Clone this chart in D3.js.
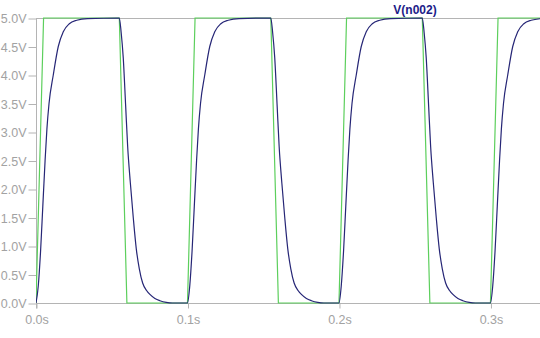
<!DOCTYPE html>
<html>
<head>
<meta charset="utf-8">
<script src="https://cdn.jsdelivr.net/npm/d3@7"></script>
<style>
  html, body { margin: 0; padding: 0; background: #fff; }
  svg { display: block; font-family: "Liberation Sans", Arial, sans-serif; }
</style>
</head>
<body>
<svg id="chart" width="540" height="338"></svg>
<script>
// input pulse (green), seconds / volts
const pulseTime = [0, 0.005, 0.055, 0.06, 0.1, 0.105, 0.155, 0.16, 0.2, 0.205, 0.255, 0.26, 0.3, 0.305, 0.34];
const pulseVolt = [0, 5, 5, 0, 0, 5, 5, 0, 0, 5, 5, 0, 0, 5, 5];

// V(n002) (blue)
const nodeTime = [
  0, 0.0015, 0.003, 0.0045, 0.006, 0.0072, 0.0086, 0.0114, 0.0147, 0.018, 0.022, 0.0269, 0.034,
  0.055, 0.0562, 0.0576, 0.0592, 0.0605, 0.0623, 0.0642, 0.0662, 0.0682, 0.0704, 0.073, 0.0752, 0.0785, 0.0818, 0.086, 0.09,
  0.1, 0.1015, 0.103, 0.1045, 0.106, 0.1072, 0.1086, 0.1114, 0.1147, 0.118, 0.122, 0.1269, 0.134,
  0.155, 0.1562, 0.1576, 0.1592, 0.1605, 0.1623, 0.1642, 0.1662, 0.1682, 0.1704, 0.173, 0.1752, 0.1785, 0.1818, 0.186, 0.19,
  0.2, 0.2015, 0.203, 0.2045, 0.206, 0.2072, 0.2086, 0.2114, 0.2147, 0.218, 0.222, 0.2269, 0.234,
  0.255, 0.2562, 0.2576, 0.2592, 0.2605, 0.2623, 0.2642, 0.2662, 0.2682, 0.2704, 0.273, 0.2752, 0.2785, 0.2818, 0.286, 0.29,
  0.3, 0.3015, 0.303, 0.3045, 0.306, 0.3072, 0.3086, 0.3114, 0.3147, 0.318, 0.322, 0.3269, 0.334
];
const nodeVolt = [
  0, 0.3, 0.9, 1.7, 2.5, 3.05, 3.5, 4.0, 4.5, 4.76, 4.9, 4.96, 4.99,
  5, 4.75, 4.3, 3.45, 2.75, 2.1, 1.5, 0.95, 0.6, 0.35, 0.22, 0.15, 0.08, 0.04, 0.01, 0,
  0, 0.3, 0.9, 1.7, 2.5, 3.05, 3.5, 4.0, 4.5, 4.76, 4.9, 4.96, 4.99,
  5, 4.75, 4.3, 3.45, 2.75, 2.1, 1.5, 0.95, 0.6, 0.35, 0.22, 0.15, 0.08, 0.04, 0.01, 0,
  0, 0.3, 0.9, 1.7, 2.5, 3.05, 3.5, 4.0, 4.5, 4.76, 4.9, 4.96, 4.99,
  5, 4.75, 4.3, 3.45, 2.75, 2.1, 1.5, 0.95, 0.6, 0.35, 0.22, 0.15, 0.08, 0.04, 0.01, 0,
  0, 0.3, 0.9, 1.7, 2.5, 3.05, 3.5, 4.0, 4.5, 4.76, 4.9, 4.96, 4.99
];

const yTicks = [0, 0.5, 1, 1.5, 2, 2.5, 3, 3.5, 4, 4.5, 5];
const xTicks = [0, 0.1, 0.2, 0.3];
const traceName = 'V(n002)';

const svg = d3.select('#chart');
const width = parseFloat(svg.attr('width'));
const plotLeft = 36, plotTop = 18, plotBottom = 303;

const x = d3.scaleLinear().domain([0, 0.3327]).range([plotLeft, width]);
const y = d3.scaleLinear().domain([0, 5]).range([plotBottom, plotTop]);

const gray = '#b4b4b4';
const labelGray = '#a2a2a2';

svg.append('defs').append('clipPath').attr('id', 'clip')
    .append('rect').attr('x', plotLeft).attr('y', plotTop - 2).attr('width', width - plotLeft).attr('height', plotBottom - plotTop + 4);

// frame
svg.append('line').attr('x1', plotLeft).attr('x2', width).attr('y1', plotTop + 0.5).attr('y2', plotTop + 0.5).attr('stroke', gray);
svg.append('line').attr('x1', plotLeft).attr('x2', width).attr('y1', plotBottom + 0.5).attr('y2', plotBottom + 0.5).attr('stroke', gray);

const yAxis = svg.append('g').attr('transform', `translate(${plotLeft + 0.5},0.5)`)
    .call(d3.axisLeft(y).tickValues(yTicks).tickSize(8).tickPadding(2).tickFormat(d => d3.format('.1f')(d) + 'V'));
const xAxis = svg.append('g').attr('transform', `translate(0.5,${plotBottom + 0.5})`)
    .call(d3.axisBottom(x).tickValues(xTicks).tickSize(5).tickPadding(7).tickFormat(d => d3.format('.1f')(d) + 's'));
xAxis.select('.domain').remove();
[yAxis, xAxis].forEach(a => {
    a.select('.domain').attr('stroke', gray);
    a.selectAll('.tick line').attr('stroke', gray);
    a.selectAll('.tick text').attr('fill', labelGray).attr('font-size', '12.5px')
        .attr('font-family', '"Liberation Sans", Arial, sans-serif');
});
yAxis.select('.domain').attr('d', `M0,${plotTop}V${plotBottom + 5}`);

const line = d3.line().x(d => x(d[0])).y(d => y(d[1]));
const plot = svg.append('g').attr('clip-path', 'url(#clip)');

plot.append('path')
    .datum(d3.zip(pulseTime, pulseVolt))
    .attr('fill', 'none').attr('stroke', '#5ccf5c').attr('stroke-width', 1.2)
    .attr('d', line);

plot.append('path')
    .datum(d3.zip(nodeTime, nodeVolt))
    .attr('fill', 'none').attr('stroke', '#262676').attr('stroke-width', 1.2)
    .attr('d', line.curve(d3.curveMonotoneX));

svg.append('text').text(traceName)
    .attr('x', 415).attr('y', 14).attr('text-anchor', 'middle')
    .attr('fill', '#1c1c88').attr('font-size', '12px').attr('font-weight', 'bold');
</script>
</body>
</html>
